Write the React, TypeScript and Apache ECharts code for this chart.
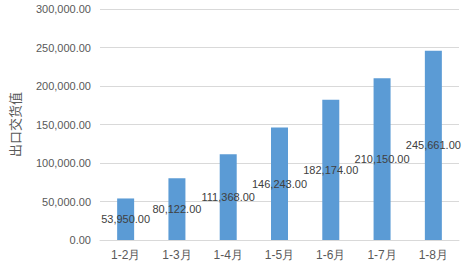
import React, { useEffect, useRef } from "react";
import * as echarts from "echarts";

const categories = ["1-2月", "1-3月", "1-4月", "1-5月", "1-6月", "1-7月", "1-8月"];
const exportValues = [53950, 80122, 111368, 146243, 182174, 210150, 245661];
const yAxisName = "出口交货值";

const fmt = (v: number) =>
  Number(v).toLocaleString("en-US", { minimumFractionDigits: 2, maximumFractionDigits: 2 });

export default function App() {
  const ref = useRef<HTMLDivElement>(null);
  useEffect(() => {
    document.body.style.margin = "0";
    const chart = echarts.init(ref.current!, null, { renderer: "svg" });
    chart.setOption({
      animation: false,
      backgroundColor: "#ffffff",
      grid: { left: 94, right: 10, top: 9, bottom: 31, containLabel: false },
      xAxis: {
        type: "category",
        data: categories,
        axisLine: { show: true, lineStyle: { color: "#D9D9D9" } },
        axisTick: { show: false },
        axisLabel: { color: "#595959", fontSize: 12, fontFamily: "Liberation Sans, Arial, sans-serif", margin: 9 },
      },
      yAxis: {
        type: "value",
        min: 0,
        max: 300000,
        interval: 50000,
        name: yAxisName,
        nameLocation: "middle",
        nameRotate: 90,
        nameGap: 79,
        nameTextStyle: { color: "#595959", fontSize: 13, fontFamily: "Noto Sans CJK SC, sans-serif" },
        axisLine: { show: false },
        axisTick: { show: false },
        splitLine: { lineStyle: { color: "#D9D9D9" } },
        axisLabel: {
          color: "#595959",
          fontSize: 11,
          fontFamily: "Liberation Sans, Arial, sans-serif",
          margin: 9,
          formatter: (v: number) => fmt(v),
        },
      },
      series: [
        {
          type: "bar",
          data: exportValues,
          barWidth: 17,
          itemStyle: { color: "#5B9BD5" },
          label: {
            show: true,
            position: "inside",
            color: "#404040",
            fontSize: 11,
            fontFamily: "Liberation Sans, Arial, sans-serif",
            formatter: (p: any) => fmt(p.value),
          },
        },
      ],
    });
    return () => chart.dispose();
  }, []);
  return <div ref={ref} style={{ width: 469, height: 271 }} />;
}
